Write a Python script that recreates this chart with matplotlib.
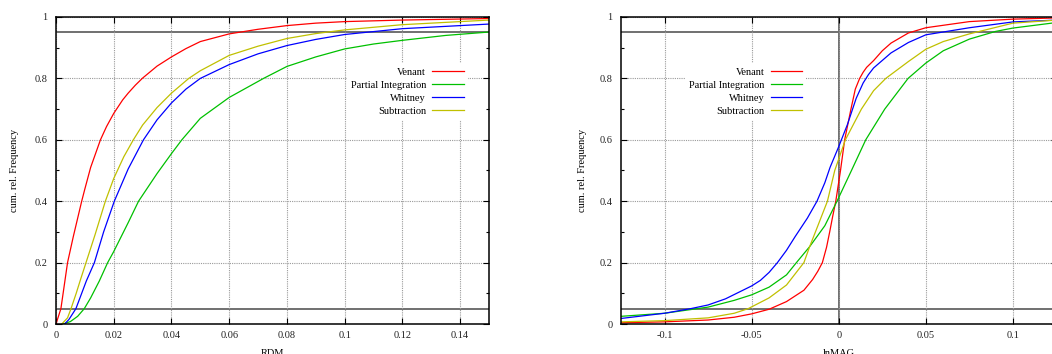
import numpy as np
import matplotlib
matplotlib.use('Agg')
import matplotlib.pyplot as plt
from matplotlib.ticker import MultipleLocator, FuncFormatter

plt.rcParams['font.family'] = ['Liberation Serif', 'DejaVu Serif']
plt.rcParams['axes.unicode_minus'] = False

labels = ['Venant', 'Partial Integration', 'Whitney', 'Subtraction']
colors = ['#ff0000', '#00c000', '#0000ff', '#c0c000']

# RDM (left panel)
rdm_venant_x = [0, 0.0017, 0.004, 0.006, 0.0089, 0.010, 0.012, 0.0154, 0.0175, 0.02, 0.0231, 0.025,
                0.0275, 0.03, 0.035, 0.04, 0.045, 0.05, 0.06, 0.07, 0.08, 0.09, 0.1, 0.12, 0.15]
rdm_venant_y = [0, 0.05, 0.2, 0.285, 0.4, 0.44, 0.51, 0.6, 0.643, 0.686, 0.73, 0.752,
                0.778, 0.801, 0.84, 0.87, 0.897, 0.92, 0.945, 0.96, 0.972, 0.98, 0.985, 0.99, 0.995]
rdm_partial_x = [0.0025, 0.005, 0.0075, 0.0098, 0.012, 0.015, 0.0179, 0.02, 0.025, 0.0286, 0.035,
                 0.04, 0.0436, 0.05, 0.06, 0.0719, 0.08, 0.09, 0.1, 0.11, 0.12, 0.135, 0.15]
rdm_partial_y = [0, 0.008, 0.025, 0.05, 0.085, 0.14, 0.2, 0.236, 0.33, 0.4, 0.49,
                 0.555, 0.6, 0.67, 0.738, 0.8, 0.839, 0.87, 0.896, 0.912, 0.924, 0.94, 0.951]
rdm_whitney_x = [0.003, 0.0045, 0.0069, 0.0085, 0.0105, 0.0133, 0.0165, 0.0202, 0.025, 0.0303,
                 0.035, 0.04, 0.045, 0.05, 0.06, 0.07, 0.08, 0.09, 0.1, 0.12, 0.15]
rdm_whitney_y = [0, 0.015, 0.05, 0.09, 0.14, 0.2, 0.3, 0.4, 0.505, 0.6,
                 0.665, 0.72, 0.765, 0.8, 0.845, 0.88, 0.907, 0.927, 0.943, 0.962, 0.977]
rdm_subtr_x = [0.002, 0.004, 0.0052, 0.007, 0.0085, 0.0104, 0.0135, 0.0171, 0.02, 0.0235, 0.0268,
               0.03, 0.035, 0.04, 0.046, 0.05, 0.06, 0.07, 0.08, 0.09, 0.1, 0.12, 0.15]
rdm_subtr_y = [0, 0.02, 0.05, 0.1, 0.145, 0.2, 0.29, 0.4, 0.474, 0.545, 0.6,
               0.648, 0.705, 0.752, 0.8, 0.825, 0.875, 0.905, 0.93, 0.946, 0.958, 0.975, 0.99]

# lnMAG (right panel)
mag_venant_x = [-0.125, -0.1, -0.075, -0.06, -0.05, -0.04, -0.03, -0.02, -0.015, -0.012, -0.0094,
                -0.007, -0.0052, -0.0035, -0.0017, 0.001, 0.0034, 0.007, 0.0095, 0.012, 0.014,
                0.016, 0.02, 0.025, 0.03, 0.04, 0.05, 0.075, 0.1, 0.125]
mag_venant_y = [0.004, 0.007, 0.013, 0.022, 0.033, 0.048, 0.073, 0.11, 0.145, 0.172, 0.2,
                0.25, 0.3, 0.35, 0.4, 0.5, 0.6, 0.7, 0.765, 0.8, 0.82,
                0.836, 0.858, 0.89, 0.915, 0.948, 0.965, 0.985, 0.993, 0.997]
mag_partial_x = [-0.125, -0.1, -0.075, -0.06, -0.05, -0.04, -0.03, -0.0243, -0.0167, -0.008,
                 -0.001, 0.0073, 0.0155, 0.0264, 0.0398, 0.05, 0.06, 0.075, 0.09, 0.1, 0.125]
mag_partial_y = [0.025, 0.035, 0.055, 0.077, 0.095, 0.12, 0.16, 0.2, 0.252, 0.32,
                 0.4, 0.5, 0.6, 0.7, 0.8, 0.85, 0.89, 0.928, 0.953, 0.964, 0.982]
mag_whitney_x = [-0.125, -0.1, -0.085, -0.075, -0.065, -0.05, -0.045, -0.04, -0.0352, -0.03, -0.025,
                 -0.018, -0.0125, -0.008, -0.005, 0, 0.005, 0.01, 0.014, 0.017, 0.02, 0.03, 0.04,
                 0.05, 0.075, 0.1, 0.125]
mag_whitney_y = [0.018, 0.035, 0.05, 0.062, 0.082, 0.124, 0.142, 0.168, 0.2, 0.24, 0.285,
                 0.345, 0.4, 0.46, 0.51, 0.578, 0.65, 0.735, 0.785, 0.812, 0.834, 0.883, 0.917,
                 0.942, 0.965, 0.984, 0.99]
mag_subtr_x = [-0.125, -0.1, -0.075, -0.06, -0.052, -0.04, -0.03, -0.02, -0.0167, -0.012, -0.0065,
               -0.0023, 0.0038, 0.013, 0.02, 0.027, 0.04, 0.05, 0.06, 0.075, 0.1, 0.125]
mag_subtr_y = [0.007, 0.011, 0.02, 0.035, 0.05, 0.085, 0.127, 0.2, 0.252, 0.32, 0.4,
               0.5, 0.6, 0.7, 0.76, 0.8, 0.855, 0.895, 0.92, 0.945, 0.98, 0.99]

rdm_data = [(rdm_venant_x, rdm_venant_y), (rdm_partial_x, rdm_partial_y),
            (rdm_whitney_x, rdm_whitney_y), (rdm_subtr_x, rdm_subtr_y)]
mag_data = [(mag_venant_x, mag_venant_y), (mag_partial_x, mag_partial_y),
            (mag_whitney_x, mag_whitney_y), (mag_subtr_x, mag_subtr_y)]

W, H = 1052, 354
fig = plt.figure(figsize=(W / 100, H / 100), dpi=100)
ax1 = fig.add_axes([56 / W, 30 / H, 433 / W, 307 / H])
ax2 = fig.add_axes([621 / W, 30 / H, 435.5 / W, 307 / H])

fs = 7.5
gray = '#707070'


def fmt(v, pos):
    s = '%g' % v
    return '0' if s in ('-0', '0') else s


def style(ax, xlim, xmajor, xlabel, ylab_x, leg_right):
    ax.set_xlim(*xlim)
    ax.set_ylim(0, 1)
    ax.xaxis.set_major_locator(MultipleLocator(xmajor))
    ax.yaxis.set_major_locator(MultipleLocator(0.2))
    ax.yaxis.set_minor_locator(MultipleLocator(0.1))
    ax.xaxis.set_major_formatter(FuncFormatter(fmt))
    ax.yaxis.set_major_formatter(FuncFormatter(fmt))
    ax.tick_params(which='both', direction='in', top=True, right=True,
                   labelsize=fs, colors='black', labelcolor='#222222')
    ax.tick_params(which='major', length=4, width=0.8)
    ax.tick_params(which='minor', length=2.5, width=0.8)
    ax.tick_params(axis='x', pad=5)
    ax.tick_params(axis='y', pad=6)
    ax.grid(True, which='major', linestyle=(0, (1, 1)), color='#9a9a9a', linewidth=0.8, zorder=0)
    for sp in ax.spines.values():
        sp.set_linewidth(1.1)
    ax.axhline(0.05, color=gray, lw=1.4, zorder=1)
    ax.axhline(0.95, color=gray, lw=1.4, zorder=1)
    ax.set_xlabel(xlabel, fontsize=fs)
    ax.set_ylabel('cum. rel. Frequency', fontsize=fs)
    ax.xaxis.set_label_coords(0.5, -0.08)
    ax.yaxis.set_label_coords(ylab_x, 0.5)
    # markerfirst=False packs the rows right-aligned, like the gnuplot key
    leg = ax.legend(loc='upper right', bbox_to_anchor=(leg_right, 0.85), fontsize=fs,
                    markerfirst=False, frameon=True, fancybox=False, handlelength=3.0,
                    handletextpad=0.6, labelspacing=0.36, borderpad=0.4, borderaxespad=0)
    leg.get_frame().set_facecolor('white')
    leg.get_frame().set_edgecolor('none')
    leg.get_frame().set_alpha(1)
    leg.set_zorder(3)


for (x, y), c, lab in zip(rdm_data, colors, labels):
    ax1.plot(x, y, color=c, lw=0.9, label=lab, zorder=2)
for (x, y), c, lab in zip(mag_data, colors, labels):
    ax2.plot(x, y, color=c, lw=0.9, label=lab, zorder=2)
ax2.axvline(0, color=gray, lw=1.4, zorder=1)

style(ax1, (0, 0.15), 0.02, 'RDM', -0.085, 0.951)
style(ax2, (-0.125, 0.125), 0.05, 'lnMAG', -0.079, 0.425)

fig.savefig('out.png', dpi=100)
